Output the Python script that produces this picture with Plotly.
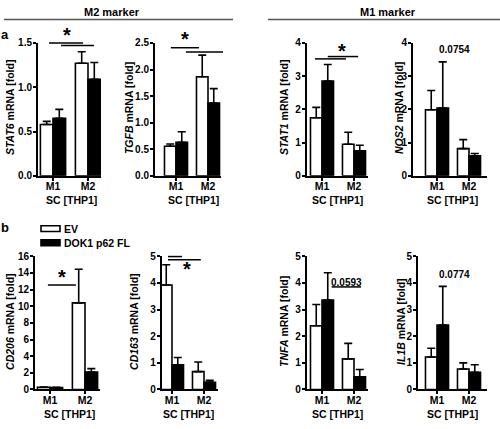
import plotly.graph_objects as go

# ---------------- data ----------------
genes = ["STAT6", "TGFB", "STAT1", "NOS2", "CD206", "CD163", "TNFA", "IL1B"]
groups = ["M1", "M2"]
legend_names = ["EV", "DOK1 p62 FL"]

ev_mean = [[0.58, 1.27], [0.555, 1.865], [1.75, 0.95], [1.99, 0.82],
           [0.27, 10.4], [3.92, 0.67], [2.39, 1.15], [1.22, 0.77]]
ev_err = [[0.035, 0.13], [0.045, 0.405], [0.31, 0.36], [0.58, 0.27],
          [0.03, 4.05], [0.76, 0.36], [0.80, 0.58], [0.33, 0.23]]
dok_mean = [[0.65, 1.09], [0.63, 1.37], [2.85, 0.75], [2.04, 0.60],
            [0.22, 2.10], [0.93, 0.27], [3.36, 0.48], [2.42, 0.64]]
dok_err = [[0.10, 0.19], [0.20, 0.27], [0.50, 0.17], [1.39, 0.07],
           [0.03, 0.40], [0.27, 0.07], [1.02, 0.27], [1.45, 0.29]]

y_max = [1.5, 2.5, 4, 4, 16, 5, 5, 5]
y_dtick = [0.5, 0.5, 1, 1, 2, 1, 1, 1]
y_dec = [1, 1, 0, 0, 0, 0, 0, 0]

# significance bars: (panel, x0, x1, y) in data units
sig_lines = [(0, 0.886, 1.857, 1.5), (0, 1.23, 2.17, 1.47),
             (1, 0.84, 1.72, 2.41), (1, 1.31, 2.47, 2.33),
             (2, 0.78, 1.75, 3.52), (2, 1.18, 2.13, 3.59),
             (4, 0.94, 1.74, 12.55),
             (5, 0.875, 1.31, 4.99), (5, 0.875, 1.90, 4.87),
             (6, 1.30, 2.22, 3.85)]
# significance labels: (panel, x, y, text, kind)
sig_texts = [(0, 1.40, 1.58, "*", "star"), (1, 1.28, 2.55, "*", "star"),
             (2, 1.62, 3.73, "*", "star"), (3, 1.56, 3.80, "0.0754", "p"),
             (4, 1.34, 13.4, "*", "star"), (5, 1.46, 4.47, "*", "star"),
             (6, 1.77, 4.03, "0.0593", "p"), (7, 1.56, 4.33, "0.0774", "p")]

# ---------------- geometry (pixels) ----------------
W, H = 500, 429
# left axis px, M1 px, M2 px, right end px
xgeo = [(38, 53, 88, 101), (155, 176, 208, 221), (306.7, 322, 354, 368), (413, 437, 469, 487),
        (35, 50, 85, 100), (161.7, 172, 204, 218), (306.7, 322, 354, 368), (418, 437, 469, 487)]
rows = [(38, 174.7), (257.5, 394.5)]  # top px, bottom px
ytitle_x = [10, 129, 284, 399, 10, 134, 284, 401]
ytitle_y = [105, 325]
sc_x = [71, 193, 337, 452, 69, 188, 337, 452]
sc_y = [200, 420]

FONT = "Liberation Sans, Arial, sans-serif"


def bold_font(size):
    return dict(family=FONT, size=size, color="black", weight="bold")


fig = go.Figure()
shapes = []
annotations = []


def dom_x(i):
    L, m1, m2, R = xgeo[i]
    return [L / W, R / W]


def rng_x(i):
    L, m1, m2, R = xgeo[i]
    s = m2 - m1
    return [1 - (m1 - L) / s, 2 + (R - m2) / s]


def dom_y(i):
    t, b = rows[i // 4]
    return [1 - b / H, 1 - t / H]


def to_paper(i, x, y):
    xd, xr = dom_x(i), rng_x(i)
    yd = dom_y(i)
    px = xd[0] + (x - xr[0]) / (xr[1] - xr[0]) * (xd[1] - xd[0])
    py = yd[0] + y / y_max[i] * (yd[1] - yd[0])
    return px, py


def pp(x, y):
    return x / W, 1 - y / H


for i, g in enumerate(genes):
    xa = "x" if i == 0 else f"x{i+1}"
    ya = "y" if i == 0 else f"y{i+1}"
    for j, (means, errs, col) in enumerate([(ev_mean, ev_err, "white"), (dok_mean, dok_err, "black")]):
        fig.add_trace(go.Bar(
            x=[1, 2], y=means[i], xaxis=xa, yaxis=ya,
            name=legend_names[j], showlegend=False,
            offsetgroup=str(j),
            marker=dict(color=col, line=dict(color="black", width=1.6)),
            error_y=dict(type="data", symmetric=False, array=errs[i], arrayminus=[0, 0],
                         color="black", thickness=1.6, width=4),
        ))
    n = int(round(y_max[i] / y_dtick[i]))
    tv = [k * y_dtick[i] for k in range(n + 1)]
    tt = [f"<b>{v:.{y_dec[i]}f}</b>" for v in tv]
    axn = "" if i == 0 else str(i + 1)
    fig.layout["xaxis" + axn] = dict(
        domain=dom_x(i), range=rng_x(i), anchor=ya, tickvals=[1, 2],
        ticktext=[f"<b>{gname}</b>" for gname in groups],
        showline=True, linecolor="black", linewidth=2, ticks="outside", ticklen=3,
        tickwidth=2, tickcolor="black", showgrid=False, zeroline=False,
        ticklabelstandoff=-3, tickfont=bold_font(10.5))
    fig.layout["yaxis" + axn] = dict(
        domain=dom_y(i), range=[0, y_max[i]], anchor=xa, tickvals=tv, ticktext=tt,
        showline=True, linecolor="black", linewidth=2,
        ticks="outside", ticklen=3, tickwidth=2, tickcolor="black", showgrid=False,
        zeroline=False, ticklabelstandoff=-1, tickfont=bold_font(10))
    x_, y_ = pp(ytitle_x[i], ytitle_y[i // 4])
    annotations.append(dict(
        x=x_, y=y_, xref="paper", yref="paper",
        text=f"<b><i>{g}</i> mRNA [fold]</b>", textangle=-90, showarrow=False,
        xanchor="center", yanchor="middle", font=bold_font(10.5)))
    x_, y_ = pp(sc_x[i], sc_y[i // 4])
    annotations.append(dict(
        x=x_, y=y_, xref="paper", yref="paper",
        text="<b>SC [THP1]</b>", showarrow=False, xanchor="center", yanchor="middle",
        font=bold_font(10.5)))

for (p, x0, x1, y) in sig_lines:
    a = to_paper(p, x0, y)
    b = to_paper(p, x1, y)
    shapes.append(dict(type="line", xref="paper", yref="paper", x0=a[0], y0=a[1],
                       x1=b[0], y1=b[1], line=dict(color="black", width=1.5)))

for (p, x, y, t, kind) in sig_texts:
    px, py = to_paper(p, x, y)
    annotations.append(dict(
        x=px, y=py, xref="paper", yref="paper", text=f"<b>{t}</b>", showarrow=False,
        xanchor="center", yanchor="middle", yshift=1 if kind == "star" else 0,
        font=bold_font(20 if kind == "star" else 10)))

# headers
for txt, cx in [("M2 marker", 112), ("M1 marker", 388)]:
    x_, y_ = pp(cx, 6.5)
    annotations.append(dict(x=x_, y=y_, xref="paper", yref="paper", text=f"<b>{txt}</b>",
                            showarrow=False, xanchor="center", yanchor="middle",
                            font=bold_font(11)))
for x0, x1 in [(4, 233), (268, 500)]:
    shapes.append(dict(type="line", xref="paper", yref="paper", x0=x0 / W, x1=x1 / W,
                       y0=1 - 14 / H, y1=1 - 14 / H, line=dict(color="#555555", width=1.5)))
# panel letters
for lab, yy in [("a", 29), ("b", 228)]:
    x_, y_ = pp(5, yy)
    annotations.append(dict(x=x_, y=y_, xref="paper", yref="paper", text=f"<b>{lab}</b>",
                            showarrow=False, xanchor="center", yanchor="middle",
                            font=bold_font(13)))
# legend
for k, (name, col, yy) in enumerate([(legend_names[0], "white", 229), (legend_names[1], "black", 243.5)]):
    shapes.append(dict(type="rect", xref="paper", yref="paper", x0=41 / W, x1=60 / W,
                       y0=1 - (yy + 3) / H, y1=1 - (yy - 3) / H,
                       fillcolor=col, line=dict(color="black", width=1.6)))
    x_, y_ = pp(62, yy)
    annotations.append(dict(x=x_, y=y_, xref="paper", yref="paper", text=f"<b>{name}</b>",
                            showarrow=False, xanchor="left", yanchor="middle",
                            font=bold_font(10.5)))

fig.update_layout(
    width=W, height=H, margin=dict(l=0, r=0, t=0, b=0),
    paper_bgcolor="white", plot_bgcolor="white",
    barmode="group", bargap=0.28, bargroupgap=0,
    shapes=shapes, annotations=annotations, showlegend=False,
)

fig.write_html("out.html", config={"displayModeBar": False},
               post_script="document.body.style.margin='0px';document.body.style.overflow='hidden';")
